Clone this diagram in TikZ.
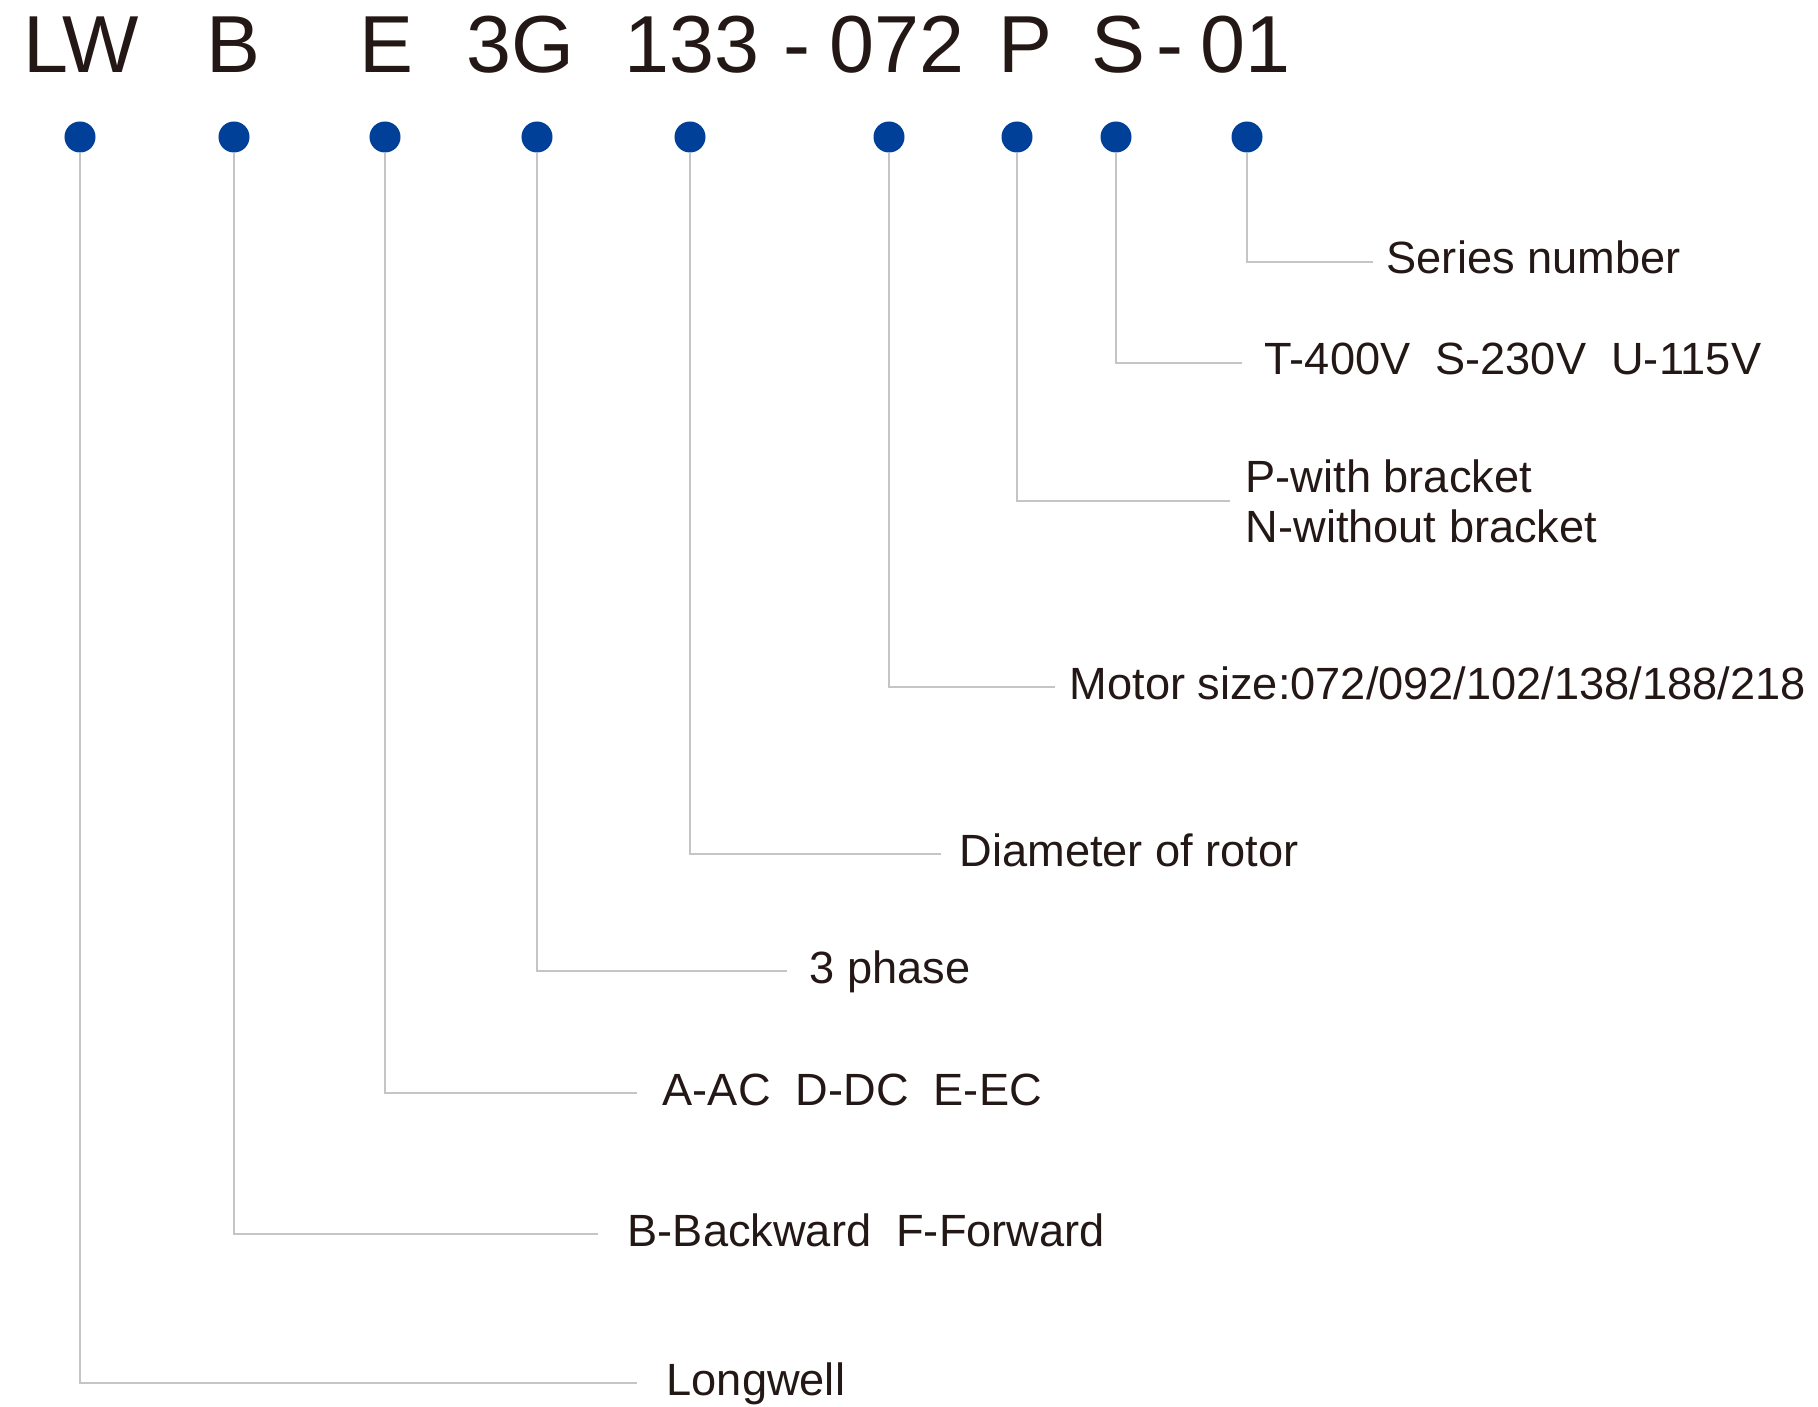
\documentclass[tikz,border=0pt]{standalone}
\usepackage{fontspec}
\setmainfont{Liberation Sans}
\usepackage{tikz}
\usetikzlibrary{positioning}
\definecolor{beadblue}{RGB}{0,64,152}
\definecolor{leadgray}{RGB}{196,197,197}
\definecolor{ink}{RGB}{35,24,21}
\tikzset{bead/.style = {fill = beadblue, circle, inner sep = 0, minimum size = 0.31cm}}
\tikzset{part/.style = {font = \fontsize{23}{27}\selectfont, text = ink, inner sep = 0, anchor = base west}}
\tikzset{lead/.style = {draw = leadgray, line width = 0.028cm}}
\tikzset{note/.style = {font = \fontsize{12.85}{14.2}\selectfont, text = ink, inner ysep = 0, inner xsep = #1, anchor = west, text height = 0.3cm, text depth = 0.06cm}}
\tikzset{notes/.style = {font = \fontsize{12.85}{14.2}\selectfont, text = ink, inner ysep = 0, inner xsep = #1, anchor = west, align = left}}

\begin{document}
\begin{tikzpicture}[x = 0.01cm, y = -0.01cm]
      \useasboundingbox (0, 0) rectangle (1818, 1407);
      \node [part] (tLW) at (23, 73) {LW};
      \node [part] (tB) at (206, 73) {B};
      \node [part] (tE) at (359, 73) {E};
      \node [part] (t3G) at (466, 73) {3G};
      \node [part] (t133) at (624, 73) {133};
      \node [part] (tDashA) at (783, 73) {-};
      \node [part] (t072) at (829, 73) {072};
      \node [part] (tP) at (998, 73) {P};
      \node [part] (tS) at (1091, 73) {S};
      \node [part] (tDashB) at (1156, 73) {-};
      \node [part] (t01) at (1200, 73) {01};
      \node [bead] (dLW) at (80, 137) {};
      \node [bead] (dB) at (234, 137) {};
      \node [bead] (dE) at (385, 137) {};
      \node [bead] (d3G) at (537, 137) {};
      \node [bead] (d133) at (690, 137) {};
      \node [bead] (d072) at (889, 137) {};
      \node [bead] (dP) at (1017, 137) {};
      \node [bead] (dS) at (1116, 137) {};
      \node [bead] (d01) at (1247, 137) {};
      \node [note = 0.13cm] (lSer) at (1373, 262) {Series number};
      \node [note = 0.22cm] (lVolt) at (1242, 363) {T-400V~~S-230V~~U-115V};
      \node [notes = 0.15cm] (lBrk) at (1230, 501) {P-with bracket\\N-without bracket};
      \node [note = 0.14cm] (lSize) at (1055, 687) {Motor size:072/092/102/138/188/218};
      \node [note = 0.18cm] (lRot) at (941, 854) {Diameter of rotor};
      \node [note = 0.22cm] (lPh) at (787, 971) {3 phase};
      \node [note = 0.25cm] (lCur) at (637, 1093) {A-AC~~D-DC~~E-EC};
      \node [note = 0.29cm] (lDir) at (598, 1234) {B-Backward~~F-Forward};
      \node [note = 0.29cm] (lBrand) at (637, 1383) {Longwell};
      \draw [lead] (d01) |- (lSer);
      \draw [lead] (dS) |- (lVolt);
      \draw [lead] (dP) |- (lBrk);
      \draw [lead] (d072) |- (lSize);
      \draw [lead] (d133) |- (lRot);
      \draw [lead] (d3G) |- (lPh);
      \draw [lead] (dE) |- (lCur);
      \draw [lead] (dB) |- (lDir);
      \draw [lead] (dLW) |- (lBrand);
    \end{tikzpicture}
\end{document}
